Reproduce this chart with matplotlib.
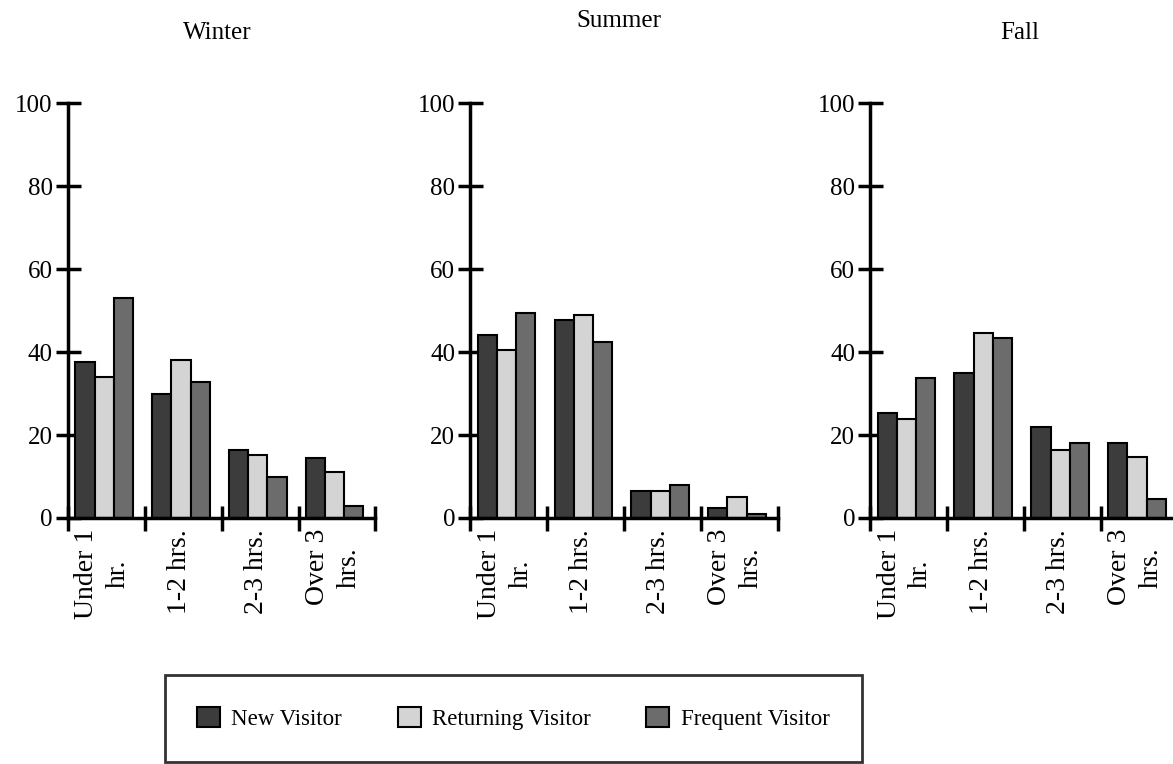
import numpy as np
import matplotlib.pyplot as plt
from matplotlib.patches import Patch

plt.rcParams['font.family'] = ['Liberation Serif', 'DejaVu Serif']

seasons = ['Winter', 'Summer', 'Fall']
durations = ['Under 1\nhr.', '1-2 hrs.', '2-3 hrs.', 'Over 3\nhrs.']
visitors = ['New Visitor', 'Returning Visitor', 'Frequent Visitor']

# percent of visitors per duration group
winter_new = [37.5, 30, 16.5, 14.5]
winter_ret = [34, 38, 15.3, 11]
winter_freq = [53, 32.7, 10, 3]

summer_new = [44, 47.8, 6.5, 2.5]
summer_ret = [40.5, 49, 6.5, 5]
summer_freq = [49.5, 42.5, 8, 1]

fall_new = [25.2, 35, 22, 18]
fall_ret = [23.8, 44.5, 16.5, 14.8]
fall_freq = [33.8, 43.3, 18, 4.5]

data = {
    'Winter': [winter_new, winter_ret, winter_freq],
    'Summer': [summer_new, summer_ret, summer_freq],
    'Fall': [fall_new, fall_ret, fall_freq],
}

colors = ['#3c3c3c', '#d4d4d4', '#6c6c6c']

fig = plt.figure(figsize=(11.73, 7.64), dpi=100)

lefts = [0.058, 0.401, 0.742]
title_y = [0.957, 0.973, 0.957]
w = 0.262
bw = 0.25
x = np.arange(4) + 0.5

for i, s in enumerate(seasons):
    ax = fig.add_axes([lefts[i], 0.322, w, 0.543])
    for k in range(3):
        ax.bar(x + (k - 1) * bw - 0.03, data[s][k], width=bw, color=colors[k],
               edgecolor='black', linewidth=1.5, zorder=2)
    ax.set_xlim(0, 4)
    ax.set_ylim(0, 100)
    for sp in ['top', 'right']:
        ax.spines[sp].set_visible(False)
    for sp in ['left', 'bottom']:
        ax.spines[sp].set_linewidth(2.5)
    ax.set_yticks([0, 20, 40, 60, 80, 100])
    ax.set_xticks([0, 1, 2, 3, 4])
    ax.set_xticklabels([])
    ax.set_xticks(x - 0.05, minor=True)
    ax.set_xticklabels(durations, minor=True, rotation=90, va='top', ha='center',
                       multialignment='center', fontsize=20, linespacing=1.35)
    ax.tick_params(axis='x', which='minor', length=0, pad=8)
    ax.tick_params(axis='both', which='major', direction='inout', length=18,
                   width=2.5, labelsize=18, pad=2)
    fig.text(lefts[i] + w / 2 - 0.004, title_y[i], s, ha='center', va='center',
             fontsize=18)

handles = [Patch(facecolor=c, edgecolor='black', linewidth=1.5) for c in colors]
leg = fig.legend(handles, visitors, loc='center', ncol=3, mode='expand',
                 bbox_to_anchor=(0.1407, 0.003, 0.594, 0.114), fontsize=16.5,
                 fancybox=False, edgecolor='black', handlelength=1.0,
                 handleheight=1.0, borderpad=1.4, handletextpad=0.5,
                 borderaxespad=0)
leg.get_frame().set_linewidth(2)

fig.savefig('out.png', dpi=100)
